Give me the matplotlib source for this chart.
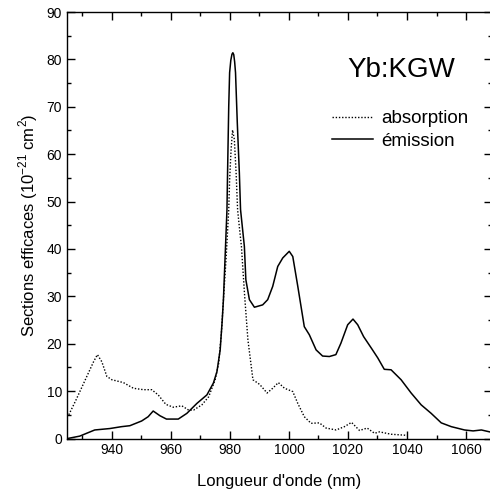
import matplotlib
matplotlib.use("Agg")
import matplotlib.pyplot as plt
from matplotlib.ticker import MultipleLocator

plt.rcParams['font.family'] = ['Liberation Sans', 'DejaVu Sans']

em_wl = [925, 929.1, 934.2, 939.3, 943.3, 946.1, 950.1, 952.3, 954.0, 956.3, 958.5, 962.5,
         965.4, 968.8, 972.2, 974.4, 975.6, 976.7, 977.4, 977.8, 979.0, 979.2, 979.6, 979.9,
         980.3, 980.7, 981.0, 981.3, 981.6, 981.9, 982.5, 983.2, 983.6, 984.3, 984.9, 985.4,
         986.6, 988.3, 991.1, 992.8, 994.5, 996.2, 997.9, 1000.1, 1001.3, 1003.0, 1005.2,
         1006.9, 1009.2, 1011.4, 1013.7, 1015.9, 1017.6, 1019.9, 1021.7, 1023.3, 1025.3,
         1028.1, 1030.1, 1032.3, 1034.6, 1038.0, 1041.4, 1044.8, 1048.2, 1051.6, 1055.0,
         1059.5, 1062.4, 1065.2, 1068.0]
em_val = [0, 0.5, 1.8, 2.1, 2.5, 2.7, 3.7, 4.6, 5.8, 4.8, 4.1, 4.1,
          5.3, 7.4, 9.2, 11.7, 14.1, 18.7, 25, 29.3, 48.3, 56, 70.1, 77.2,
          79.8, 81.1, 81.4, 81.0, 79.5, 77.2, 66.6, 56, 48.3, 44.1, 40.5, 33.5,
          29.3, 27.7, 28.2, 29.3, 32.1, 36.3, 38.1, 39.5, 38.4, 32.1, 23.6,
          21.9, 18.7, 17.4, 17.3, 17.7, 20.1, 24.0, 25.2, 24.0, 21.5,
          18.9, 17.0, 14.6, 14.5, 12.4, 9.6, 7.1, 5.3, 3.3, 2.5,
          1.8, 1.6, 1.8, 1.4]

ab_wl = [925.4, 927.6, 931.0, 933.8, 935.1, 936.6, 938.3, 940.0, 943.9, 947.3, 950.7, 953.5,
         955.7, 958.3, 960.8, 963.7, 966.0, 967.7, 970.5, 972.8, 975.0, 976.2, 977.1, 977.8,
         978.7, 979.6, 979.9, 980.4, 980.9, 981.5, 982.1, 982.6, 983.3, 983.9, 985.0, 986.1,
         987.8, 990.1, 992.6, 994.5, 996.4, 998.5, 1001.3, 1003.0, 1005.2, 1007.5, 1010.3,
         1012.6, 1016.0, 1018.8, 1021.2, 1023.9, 1026.5, 1029.0, 1030.7, 1034.6, 1039.2, 1040.0]
ab_val = [5.0, 7.8, 12.4, 16.2, 17.7, 16.2, 13.1, 12.4, 11.8, 10.6, 10.3, 10.3,
          9.2, 7.2, 6.6, 6.9, 6.0, 6.0, 7.1, 8.8, 12.4, 15.9, 22.2, 29.3,
          38, 48.3, 54.6, 61, 65.1, 63.1, 56, 48.3, 44, 40.5, 30, 20.8,
          12.4, 11.4, 9.6, 10.6, 11.8, 10.6, 9.9, 7.4, 4.6, 3.2, 3.3,
          2.2, 1.8, 2.5, 3.4, 1.7, 2.2, 1.1, 1.4, 0.9, 0.7, 0.6]

W, H = 490, 495
fig = plt.figure(figsize=(W / 100, H / 100), dpi=100)
ax = fig.add_axes([67 / W, 1 - 438.5 / H, (492 - 67) / W, (438.5 - 12) / H])

ax.plot(ab_wl, ab_val, color='black', lw=1.0, linestyle=(0, (1, 1.3)), label='absorption')
ax.plot(em_wl, em_val, color='black', lw=1.1, label='émission')

ax.set_xlim(924.8, 1068.8)
ax.set_ylim(0, 90)
ax.xaxis.set_major_locator(MultipleLocator(20))
ax.xaxis.set_minor_locator(MultipleLocator(10))
ax.yaxis.set_major_locator(MultipleLocator(10))
ax.yaxis.set_minor_locator(MultipleLocator(5))
ax.tick_params(which='both', direction='in', top=True, right=True, width=1.0, labelsize=10)
ax.tick_params(which='major', length=6)
ax.tick_params(which='minor', length=3)
for s in ax.spines.values():
    s.set_linewidth(1.0)

ax.set_xlabel("Longueur d'onde (nm)", fontsize=12, labelpad=12)
ax.set_ylabel("Sections efficaces (10$^{\\mathregular{-21}}$ cm$^{\\mathregular{2}}$)", fontsize=12, labelpad=5)

fig.text(401 / W, 1 - 70 / H, 'Yb:KGW', fontsize=20, ha='center', va='center')

ax.legend(loc='upper left', bbox_to_anchor=(332 / W, 1 - 110 / H), bbox_transform=fig.transFigure,
          frameon=False, fontsize=13.5, handlelength=2.2, handletextpad=0.4,
          labelspacing=0.3, borderpad=0, borderaxespad=0)

fig.savefig('out.png', dpi=100)
